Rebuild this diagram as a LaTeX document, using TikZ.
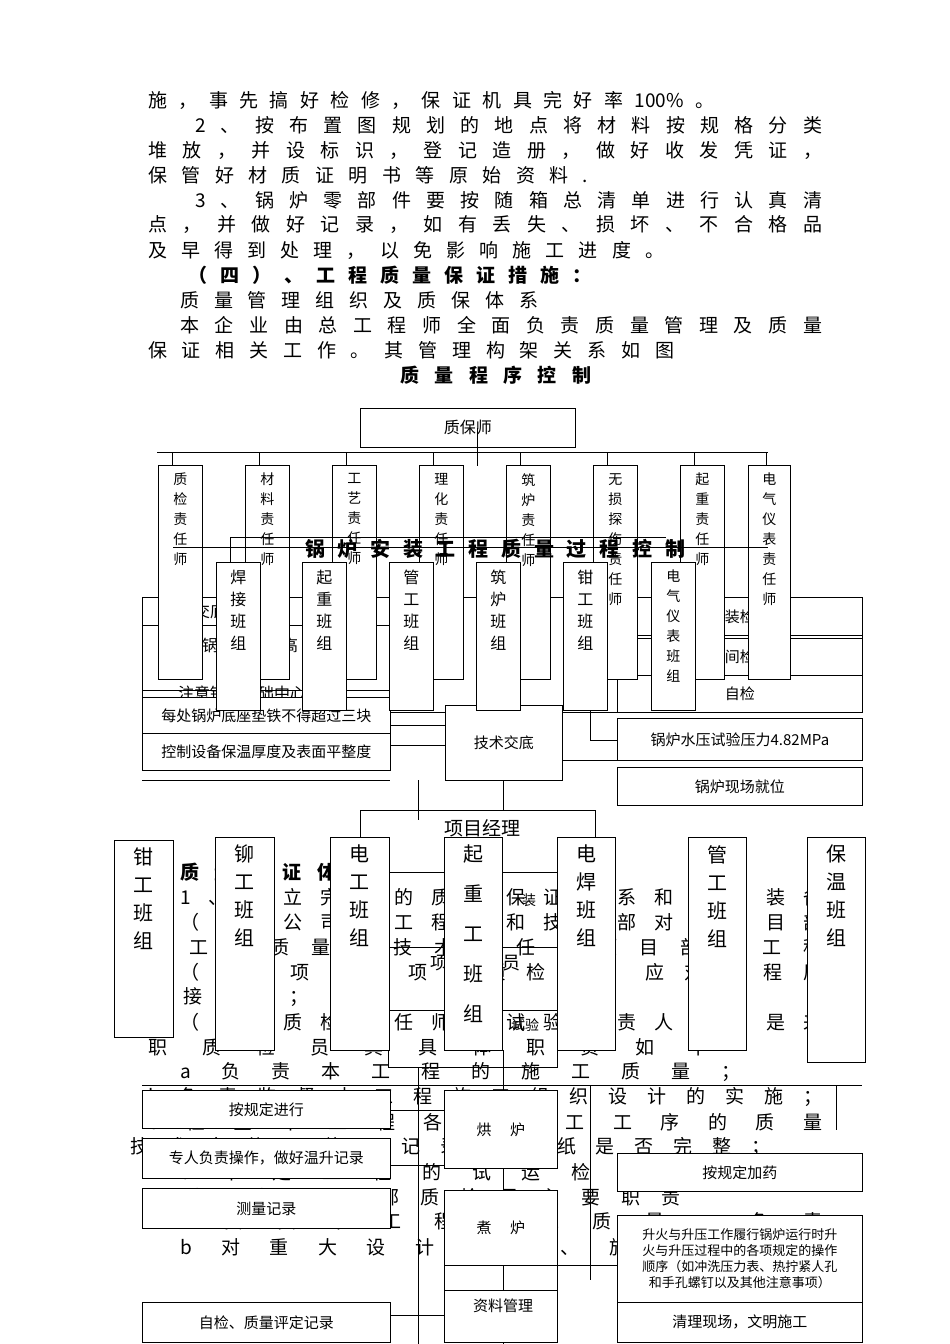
\documentclass[tikz,border=0pt]{standalone}
\usepackage{fontspec}
\setmainfont{Noto Sans CJK SC}
\makeatletter
\def\sprd#1{\sprdA#1\relax}
\def\sprdA#1{\ifx#1\relax\else#1\hfill\expandafter\sprdA\fi}
\makeatother
\newcommand\tl[5][]{\node[anchor=west,inner sep=0pt,font=\fontsize{19}{19}\selectfont#1] at (#2,#3) {\hbox to #4pt{\sprd{#5}\unskip}};}
\newcommand\vb[7]{\node[bx,anchor=north west,minimum width=#4,minimum height=#5] (#1) at (#2,#3) {};
 \node[anchor=north,align=center,font=#7,inner sep=0pt] at ([yshift=-8pt]#1.north) {#6};}
\newcommand\hb[6]{\node[bx,anchor=north west,minimum width=#4,minimum height=#5] (#1) at (#2,#3) {};
 \node[font=\fontsize{15}{17}\selectfont,align=center,inner sep=0pt] at (#1.center) {#6};}
\tikzset{bx/.style={draw,fill=white,line width=0.8pt,inner sep=0pt},ln/.style={line width=0.8pt}}
\begin{document}
\begin{tikzpicture}[x=1pt,y=-1pt]
\useasboundingbox[fill=white] (0,0) rectangle (950,1344);
% top text
\tl{148}{100}{566}{施，事先搞好检修，保证机具完好率{100\%}。}
\tl{195}{125}{627}{2、按布置图规划的地点将材料按规格分类}
\tl{148}{150}{674}{堆放，并设标识，登记造册，做好收发凭证，}
\tl{148}{175}{440}{保管好材质证明书等原始资料.}
\tl{195}{200}{627}{3、锅炉零部件要按随箱总清单进行认真清}
\tl{148}{225}{674}{点，并做好记录，如有丢失、损坏、不合格品}
\tl{148}{250}{516}{及早得到处理，以免影响施工进度。}
\tl[\bfseries]{188}{275}{403}{（四）、工程质量保证措施：}
\tl{180}{300}{358}{质量管理组织及质保体系}
\tl{180}{325}{642}{本企业由总工程师全面负责质量管理及质量}
\tl{148}{350}{526}{保证相关工作。其管理构架关系如图}
\tl[\bfseries]{400}{375}{191}{质量程序控制}
% background body text
\tl[\bfseries]{180}{872}{190}{质量保证体系}
\tl{180}{897}{642}{1、建立完善的质量保证体系和技术装备}
\tl{180}{922}{642}{（1）公司总工程师和技术部对本项目部}
\tl{148}{947}{674}{的工程质量负技术责任，项目部对工程}
\tl{180}{972}{642}{（2）项目部项目质检员，应对工程质}
\tl{148}{997}{160}{直接负责；}
\tl{180}{1022}{642}{（3）质检责任师是试验负责人，也是来}
\tl{148}{1047}{560}{职质检员其具体职责如下}
\tl{180}{1072}{560}{a负责本工程的施工质量；}
\tl{148}{1097}{674}{b负责监督本工程施工组织设计的实施；}
\tl{148}{1122}{674}{c检查本工程各项施工工序的质量}
\tl{130}{1147}{640}{技术文件、施工记录、图纸是否完整；}
\tl{180}{1172}{560}{d审定工程的试运检查方案}
\tl{180}{1197}{500}{（六）项目部质检员主要职责}
\tl{180}{1222}{642}{a负责本工程施工质量，负责}
\tl{180}{1247}{642}{b对重大设计变更、施工工程、}
% middle section lines and boxes
\draw[ln] (142,597) rectangle (862,712);
\draw[ln] (142,625) -- (390,625) (142,690) -- (390,690) (590,597)--(590,740);
\node[font=\fontsize{16}{16}\selectfont] at (210,611) {安装交底技术};
\node[font=\fontsize{16}{16}\selectfont] at (250,645) {锅炉安装标高};
\node[font=\fontsize{16}{16}\selectfont] at (250,693) {注意锅炉基础中心线};
\hb{r1}{617}{597}{245}{38}{安装检查}
\hb{r2}{617}{638}{245}{37}{中间检查}
\hb{r3}{617}{675}{245}{37}{自检}
\hb{r4}{617}{718}{245}{42}{锅炉水压试验压力4.82MPa}
\hb{r5}{617}{767}{245}{38}{锅炉现场就位}
\hb{l1}{142}{697}{248}{36}{每处锅炉底座垫铁不得超过三块}
\hb{l2}{142}{733}{248}{37}{控制设备保温厚度及表面平整度}
\draw[ln] (142,780)--(390,780) (390,745)--(445,745) (390,725)--(445,725) (562,760)--(617,760) (590,740)--(617,740) (503,780)--(503,810);
\hb{jd}{445}{705}{117}{75}{技术交底}
% top org chart
\node[bx,minimum width=215,minimum height=39,anchor=north west,font=\fontsize{16}{16}\selectfont] (zb) at (360,408) {质保师};
\draw[ln] (157,452) -- (768,452);
\draw[ln] (477,428) -- (477,466);
\foreach \x in {172,259,346,433,520,607,694,766} \draw[ln] (\x,452)--(\x,470);
\def\tf{\fontsize{14}{20}\selectfont}
\vb{c1}{158}{465}{44}{214}{质\\检\\责\\任\\师}{\tf}
\vb{c2}{245}{465}{44}{214}{材\\料\\责\\任\\师}{\tf}
\vb{c3}{332}{465}{44}{214}{工\\艺\\责\\任\\师}{\tf}
\vb{c4}{419}{465}{44}{214}{理\\化\\责\\任\\师}{\tf}
\vb{c5}{506}{465}{44}{214}{筑\\炉\\责\\任\\师}{\tf}
\vb{c6}{593}{465}{44}{214}{无\\损\\探\\伤\\责\\任\\师}{\tf}
\vb{c7}{680}{465}{44}{214}{起\\重\\责\\任\\师}{\tf}
\vb{c8}{748}{465}{42}{214}{电\\气\\仪\\表\\责\\任\\师}{\tf}
\draw[ln] (230,537) -- (666,537) (173,547) -- (768,547) (230,537)--(230,562);
\node[font=\fontsize{20}{20}\selectfont\bfseries,inner sep=0pt] at (495,549) {\hbox to 380pt{\sprd{锅炉安装工程质量过程控制}\unskip}};
\def\bf{\fontsize{16}{22}\selectfont}
\vb{b1}{216}{562}{44}{148}{焊\\接\\班\\组}{\bf}
\vb{b2}{302}{562}{44}{148}{起\\重\\班\\组}{\bf}
\vb{b3}{389}{562}{44}{148}{管\\工\\班\\组}{\bf}
\vb{b4}{476}{562}{44}{148}{筑\\炉\\班\\组}{\bf}
\vb{b5}{563}{562}{44}{148}{钳\\工\\班\\组}{\bf}
\vb{b6}{651}{562}{44}{148}{电\\气\\仪\\表\\班\\组}{\fontsize{14}{20}\selectfont}
% project manager
\draw[ln] (360,845) -- (360,810) -- (595,810) -- (595,845);
\draw[ln] (418,780) -- (418,820);
\node[font=\fontsize{19}{19}\selectfont] (pm) at (482,828) {项目经理};
\draw[ln] (388,872) rectangle (557,1067);
\draw[ln] (388,947)--(557,947) (388,1010)--(557,1010);
\node[font=\fontsize{14}{14}\selectfont] at (529,900) {装};
\node[font=\fontsize{18}{18}\selectfont] at (475,963) {项目质检员};
\node[font=\fontsize{14}{14}\selectfont] at (525,1025) {试验};
\def\gf{\fontsize{20}{28}\selectfont}
\vb{g1}{114}{840}{59}{197}{钳\\工\\班\\组}{\gf}
\vb{g2}{215}{837}{59}{213}{铆\\工\\班\\组}{\gf}
\vb{g3}{330}{837}{59}{213}{电\\工\\班\\组}{\gf}
\vb{g4}{444}{837}{58}{213}{起\\重\\工\\班\\组}{\fontsize{20}{40}\selectfont}
\vb{g5}{557}{837}{58}{213}{电\\焊\\班\\组}{\gf}
\vb{g6}{688}{837}{58}{213}{管\\工\\班\\组}{\gf}
\vb{g7}{807}{837}{58}{225}{保\\温\\班\\组}{\gf}
% bottom section
\draw[ln] (142,1085) -- (862,1085);
\draw[ln] (418,1067) -- (418,1344) (503,1050) -- (503,1344) (590,1085)--(590,1280) (836,1085)--(836,1130);
\draw[ln] (390,1110)--(444,1110) (390,1165)--(444,1165) (390,1315)--(444,1315) (557,1265)--(617,1265);
\hb{k1}{142}{1090}{248}{38}{按规定进行}
\hb{k2}{142}{1138}{248}{40}{专人负责操作，做好温升记录}
\hb{k3}{142}{1188}{248}{40}{测量记录}
\hb{k4}{142}{1302}{248}{40}{自检、质量评定记录}
\hb{h1}{444}{1090}{113}{78}{烘\quad\ 炉}
\hb{h2}{444}{1190}{113}{75}{煮\quad\ 炉}
\draw[ln] (444,1265) rectangle (557,1290);
\node[bx,anchor=north west,minimum width=113,minimum height=52] (h3) at (444,1290) {};
\node[font=\fontsize{15}{15}\selectfont] at (503,1306) {资料管理};
\hb{p1}{617}{1153}{245}{38}{按规定加药}
\hb{p2}{617}{1215}{245}{87}{\fontsize{13}{15}\selectfont 升火与升压工作履行锅炉运行时升\\[-1pt]\fontsize{13}{15}\selectfont 火与升压过程中的各项规定的操作\\[-1pt]\fontsize{13}{15}\selectfont 顺序（如冲洗压力表、热拧紧人孔\\[-1pt]\fontsize{13}{15}\selectfont 和手孔螺钉以及其他注意事项）}
\hb{p3}{617}{1302}{245}{40}{清理现场，文明施工}
\end{tikzpicture}
\end{document}
